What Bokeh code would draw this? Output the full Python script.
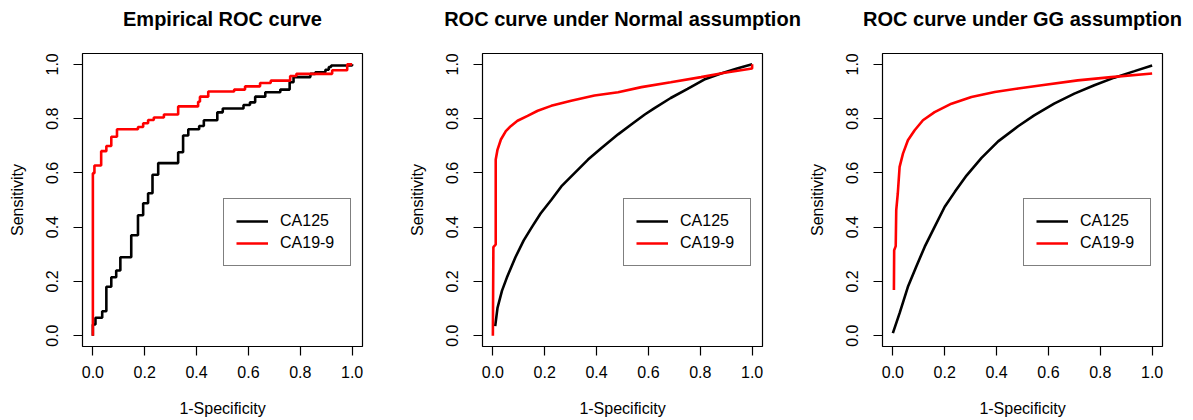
from bokeh.plotting import figure
from bokeh.layouts import row
from bokeh.models import (Range1d, FixedTicker, PrintfTickFormatter, Legend, LegendItem,
                          LinearAxis)
from bokeh.embed import file_html
from bokeh.resources import INLINE

# ---------------- data ----------------
series_names = ["CA125", "CA19-9"]
series_colors = ["black", "red"]
tick_values = [0.0, 0.2, 0.4, 0.6, 0.8, 1.0]
titles = ["Empirical ROC curve", "ROC curve under Normal assumption", "ROC curve under GG assumption"]
x_label = "1-Specificity"
y_label = "Sensitivity"

# Empirical (step) ROC curves
emp_fpr_ca125 = [0.0, 0.0, 0.010, 0.036, 0.052, 0.071, 0.090, 0.106, 0.148, 0.174, 0.194, 0.213,
                 0.230, 0.252, 0.329, 0.348, 0.368, 0.410, 0.428, 0.480, 0.501, 0.581, 0.606,
                 0.626, 0.665, 0.723, 0.759, 0.774, 0.839, 0.858, 0.897, 0.910, 0.919, 1.0]
emp_tpr_ca125 = [0.0, 0.041, 0.066, 0.090, 0.180, 0.215, 0.240, 0.289, 0.370, 0.444, 0.488, 0.525,
                 0.593, 0.636, 0.676, 0.738, 0.761, 0.773, 0.794, 0.823, 0.837, 0.850, 0.860,
                 0.881, 0.897, 0.907, 0.934, 0.953, 0.965, 0.971, 0.980, 0.990, 0.996, 1.0]
emp_fpr_ca199 = [0.0, 0.0, 0.006, 0.032, 0.052, 0.071, 0.093, 0.174, 0.194, 0.213, 0.235, 0.274,
                 0.329, 0.406, 0.413, 0.445, 0.545, 0.587, 0.645, 0.686, 0.761, 0.785, 0.923,
                 0.981, 1.0]
emp_tpr_ca199 = [0.0, 0.599, 0.627, 0.680, 0.699, 0.733, 0.761, 0.769, 0.783, 0.795, 0.804, 0.815,
                 0.845, 0.862, 0.881, 0.900, 0.907, 0.919, 0.931, 0.940, 0.957, 0.965, 0.978,
                 1.0, 1.0]

# Binormal ROC curves
norm_fpr_ca125 = [0.009, 0.018, 0.035, 0.054, 0.087, 0.119, 0.151, 0.184, 0.225, 0.264, 0.315,
                  0.367, 0.419, 0.483, 0.535, 0.586, 0.622, 0.686, 0.751, 0.815, 0.880, 0.945, 1.0]
norm_tpr_ca125 = [0.035, 0.103, 0.165, 0.214, 0.289, 0.351, 0.401, 0.450, 0.500, 0.550, 0.599,
                  0.649, 0.692, 0.742, 0.779, 0.815, 0.838, 0.876, 0.910, 0.944, 0.966, 0.986, 1.0]
norm_fpr_ca199 = [0.0, 0.002, 0.011, 0.011, 0.018, 0.031, 0.050, 0.070, 0.095, 0.134, 0.173, 0.225,
                  0.302, 0.392, 0.483, 0.573, 0.686, 0.803, 0.894, 1.0, 1.0]
norm_tpr_ca199 = [0.0, 0.326, 0.336, 0.649, 0.686, 0.723, 0.754, 0.773, 0.792, 0.810, 0.829, 0.847,
                  0.866, 0.885, 0.897, 0.916, 0.934, 0.953, 0.969, 0.985, 1.0]

# Generalized-gamma ROC curves
gg_fpr_ca125 = [0.0, 0.026, 0.058, 0.090, 0.123, 0.161, 0.200, 0.239, 0.284, 0.342, 0.406, 0.483,
                0.545, 0.622, 0.700, 0.777, 0.854, 0.932, 1.0]
gg_tpr_ca125 = [0.009, 0.083, 0.180, 0.254, 0.328, 0.401, 0.475, 0.530, 0.590, 0.655, 0.716, 0.772,
                0.812, 0.855, 0.892, 0.923, 0.951, 0.975, 0.996]
gg_fpr_ca199 = [0.004, 0.005, 0.011, 0.013, 0.019, 0.026, 0.039, 0.058, 0.084, 0.116, 0.161, 0.226,
                0.303, 0.393, 0.483, 0.574, 0.713, 0.842, 1.0]
gg_tpr_ca199 = [0.168, 0.315, 0.330, 0.463, 0.524, 0.622, 0.671, 0.720, 0.757, 0.794, 0.824, 0.855,
                0.880, 0.898, 0.911, 0.923, 0.941, 0.953, 0.966]

FONT = "Liberation Sans"


def make_panel(title, curves, step, width, border_left, border_right):
    p = figure(width=width, height=420, output_backend="svg", toolbar_location=None,
               x_range=Range1d(-0.04, 1.04), y_range=Range1d(-0.04, 1.04),
               min_border_left=border_left, min_border_right=border_right,
               min_border_top=53, min_border_bottom=74)
    p.grid.visible = False
    p.outline_line_color = "black"
    p.outline_line_width = 1.2
    p.background_fill_color = "white"
    p.border_fill_color = "white"
    for ax in (p.xaxis[0], p.yaxis[0]):
        ax.ticker = FixedTicker(ticks=tick_values)
        ax.formatter = PrintfTickFormatter(format="%.1f")
        ax.axis_line_color = None
        ax.major_tick_line_color = "black"
        ax.major_tick_line_width = 1.2
        ax.major_tick_in = 0
        ax.major_tick_out = 9
        ax.minor_tick_line_color = None
        ax.major_label_text_font = FONT
        ax.major_label_text_font_size = "16px"
        ax.major_label_text_color = "black"
        ax.axis_label_text_font = FONT
        ax.axis_label_text_font_size = "16px"
        ax.axis_label_text_font_style = "normal"
        ax.axis_label_text_color = "black"
    p.xaxis.axis_label = x_label
    p.yaxis.axis_label = y_label
    p.xaxis.major_label_standoff = 10
    p.xaxis.axis_label_standoff = 19
    p.yaxis.major_label_standoff = 15
    p.yaxis.axis_label_standoff = 18
    p.yaxis.major_label_orientation = "vertical"

    # panel title: label of a tick-less axis above the plot box (centred on the box)
    tax = LinearAxis(ticker=FixedTicker(ticks=[]), axis_label=title,
                     axis_line_color=None, major_tick_line_color=None,
                     minor_tick_line_color=None, major_tick_out=0, major_tick_in=0,
                     major_label_standoff=0, axis_label_standoff=24,
                     axis_label_text_font=FONT, axis_label_text_font_size="20px",
                     axis_label_text_font_style="bold", axis_label_text_color="black")
    p.add_layout(tax, "above")

    items = []
    for (xs, ys), name, col in zip(curves, series_names, series_colors):
        if step:
            r = p.step(xs, ys, mode="after", line_color=col, line_width=2.6)
        else:
            r = p.line(xs, ys, line_color=col, line_width=2.6)
        items.append(LegendItem(label=name, renderers=[r]))
    leg = Legend(items=items, location=(141, 80))
    leg.border_line_color = "black"
    leg.border_line_width = 1.2
    leg.background_fill_alpha = 1
    leg.label_text_font = FONT
    leg.label_text_font_size = "16px"
    leg.label_text_color = "black"
    leg.glyph_width = 32
    leg.glyph_height = 20
    leg.label_height = 20
    leg.label_width = 58
    leg.label_standoff = 12
    leg.padding = 12
    leg.spacing = 2
    leg.margin = 0
    p.add_layout(leg)
    return p


p1 = make_panel(titles[0], [(emp_fpr_ca125, emp_tpr_ca125), (emp_fpr_ca199, emp_tpr_ca199)], True, 400, 82, 38)
p2 = make_panel(titles[1], [(norm_fpr_ca125, norm_tpr_ca125), (norm_fpr_ca199, norm_tpr_ca199)], False, 402, 82, 40)
p3 = make_panel(titles[2], [(gg_fpr_ca125, gg_tpr_ca125), (gg_fpr_ca199, gg_tpr_ca199)], False, 383, 80, 23)

layout = row(p1, p2, p3)
open("out.html", "w").write(file_html(layout, INLINE))
